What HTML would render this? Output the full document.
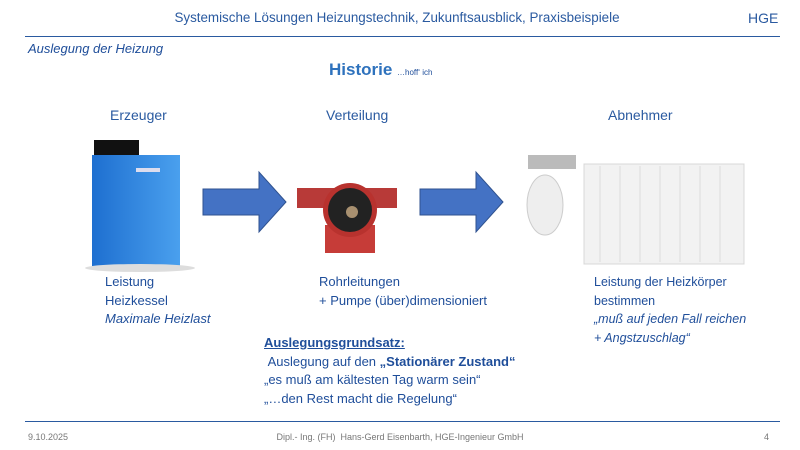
<!DOCTYPE html>
<html><head><meta charset="utf-8"><style>
*{margin:0;padding:0}
body{width:800px;height:450px;background:#fff;position:relative;overflow:hidden;font-family:"Liberation Sans",sans-serif;color:#1f4e8c}
.t{position:absolute;white-space:nowrap}
.b{font-size:13px;line-height:18.5px;color:#1f4e9a}
</style></head><body>
<div class="t" style="left:0;width:794px;text-align:center;top:10px;font-size:13.4px;color:#2a5aa0">Systemische Lösungen Heizungstechnik, Zukunftsausblick, Praxisbeispiele</div>
<div class="t" style="left:748px;top:10px;font-size:14px;color:#2a5aa0">HGE</div>
<div style="position:absolute;left:25px;top:36px;width:755px;height:1px;background:#2a5aa0"></div>
<div class="t" style="left:28px;top:41px;font-size:13px;font-style:italic;color:#1f4e9a">Auslegung der Heizung</div>
<div class="t" style="left:329px;top:60px;font-size:17px;font-weight:bold;color:#2e72bd">Historie <span style="font-size:8px;font-weight:normal;color:#1f4e9a">…hoff‘ ich</span></div>
<div class="t" style="left:110px;top:107px;font-size:14px;color:#2a5aa0">Erzeuger</div>
<div class="t" style="left:326px;top:107px;font-size:14px;color:#2a5aa0">Verteilung</div>
<div class="t" style="left:608px;top:107px;font-size:14px;color:#2a5aa0">Abnehmer</div>
<svg width="800" height="450" style="position:absolute;left:0;top:0">
<defs><linearGradient id="g" x1="0" x2="1"><stop offset="0" stop-color="#1e6fd0"/><stop offset="1" stop-color="#4aa0ee"/></linearGradient></defs>
<rect x="94" y="140" width="45" height="18" fill="#111"/>
<rect x="92" y="155" width="88" height="112" fill="url(#g)"/>
<rect x="136" y="168" width="24" height="4" fill="#dde"/>
<ellipse cx="140" cy="268" rx="55" ry="4" fill="#ddd"/>
<polygon points="203,189 259,189 259,172 286,202 259,232 259,215 203,215" fill="#4472c4" stroke="#2f528f"/>
<polygon points="420,189 476,189 476,172 503,202 476,232 476,215 420,215" fill="#4472c4" stroke="#2f528f"/>
<rect x="297" y="188" width="100" height="20" fill="#b83a38"/>
<rect x="325" y="225" width="50" height="28" fill="#c63c38"/>
<circle cx="350" cy="210" r="27" fill="#b8322e"/>
<circle cx="350" cy="210" r="22" fill="#222"/>
<circle cx="352" cy="212" r="6" fill="#a89070"/>
<rect x="528" y="155" width="48" height="14" fill="#bbb"/>
<ellipse cx="545" cy="205" rx="18" ry="30" fill="#eee" stroke="#ccc"/>
<rect x="584" y="164" width="160" height="100" fill="#f2f2f2" stroke="#d8d8d8"/>
<g stroke="#dcdcdc"><line x1="600" y1="166" x2="600" y2="262"/><line x1="620" y1="166" x2="620" y2="262"/><line x1="640" y1="166" x2="640" y2="262"/><line x1="660" y1="166" x2="660" y2="262"/><line x1="680" y1="166" x2="680" y2="262"/><line x1="700" y1="166" x2="700" y2="262"/><line x1="720" y1="166" x2="720" y2="262"/></g>
</svg>
<div class="t b" style="left:105px;top:273px">Leistung<br>Heizkessel<br><i>Maximale Heizlast</i></div>
<div class="t b" style="left:319px;top:273px">Rohrleitungen<br>+ Pumpe (über)dimensioniert</div>
<div class="t b" style="left:594px;top:273px;font-size:12.5px">Leistung der Heizkörper<br>bestimmen<br><i>„muß auf jeden Fall reichen<br>+ Angstzuschlag“</i></div>
<div class="t b" style="left:264px;top:334px"><b style="text-decoration:underline">Auslegungsgrundsatz:</b><br>&nbsp;Auslegung auf den <b>„Stationärer Zustand“</b><br>„es muß am kältesten Tag warm sein“<br>„…den Rest macht die Regelung“</div>
<div style="position:absolute;left:25px;top:421px;width:755px;height:1px;background:#2a5aa0"></div>
<div class="t" style="left:28px;top:432px;font-size:9px;color:#777">9.10.2025</div>
<div class="t" style="left:0;width:800px;text-align:center;top:432px;font-size:9px;color:#777">Dipl.- Ing. (FH)&nbsp; Hans-Gerd Eisenbarth, HGE-Ingenieur GmbH</div>
<div class="t" style="left:764px;top:432px;font-size:9px;color:#777">4</div>
</body></html>
